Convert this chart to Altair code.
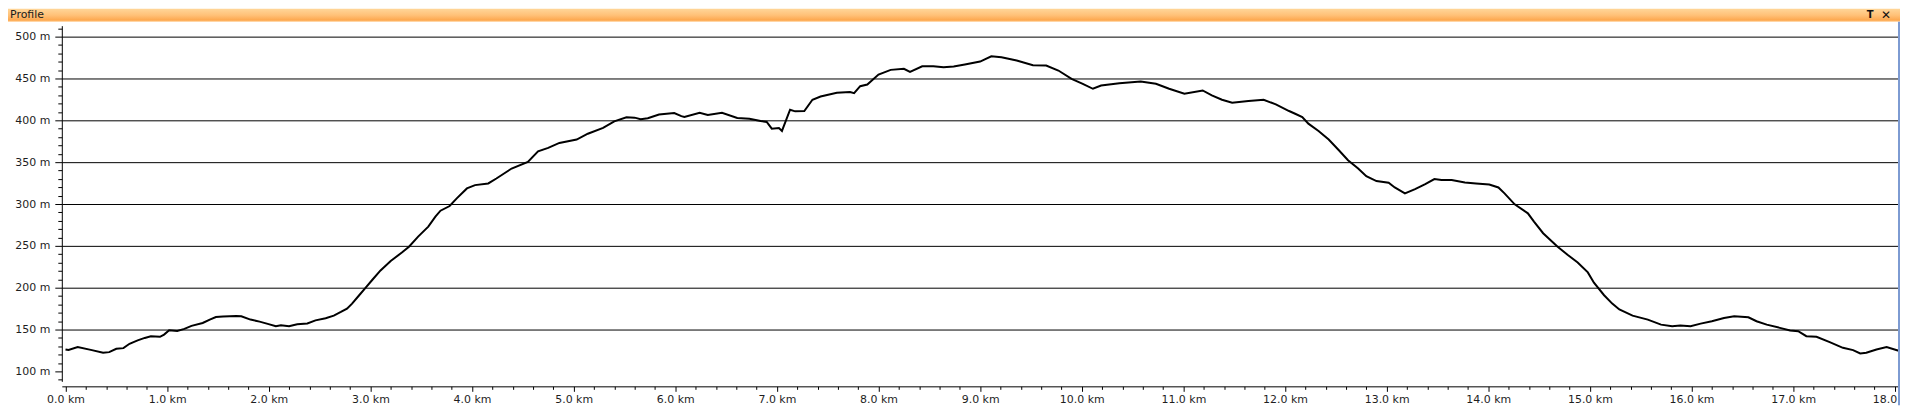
import altair as alt
import pandas as pd

dist_km = [
    0.00, 0.03, 0.12, 0.26, 0.37, 0.43, 0.50, 0.57, 0.63, 0.71, 0.78, 0.84, 0.93, 0.97,
    1.02, 1.10, 1.17, 1.24, 1.35, 1.42, 1.48, 1.55, 1.68, 1.73, 1.82, 1.91, 1.99,
    2.07, 2.12, 2.20, 2.28, 2.38, 2.46, 2.56, 2.64, 2.71, 2.77, 2.82, 2.89, 2.95,
    3.02, 3.10, 3.20, 3.31, 3.38, 3.47, 3.57, 3.64, 3.69, 3.78, 3.85, 3.95,
    4.03, 4.16, 4.24, 4.39, 4.55, 4.65, 4.75, 4.86,
    5.03, 5.14, 5.29, 5.40, 5.52, 5.60, 5.66, 5.73, 5.84, 5.99,
    6.06, 6.09, 6.24, 6.32, 6.46, 6.61, 6.73, 6.84, 6.90, 6.95,
    7.02, 7.05, 7.13, 7.18, 7.27, 7.35, 7.43, 7.59, 7.72, 7.76, 7.82, 7.89,
    8.00, 8.12, 8.25, 8.31, 8.43, 8.54, 8.64, 8.74, 8.85,
    9.00, 9.11, 9.21, 9.36, 9.52, 9.65, 9.77, 9.90,
    10.01, 10.11, 10.19, 10.37, 10.58, 10.73, 10.86,
    11.01, 11.19, 11.28, 11.38, 11.48, 11.64, 11.79, 11.91,
    12.04, 12.10, 12.17, 12.23, 12.33, 12.43, 12.53, 12.62, 12.72, 12.80, 12.90,
    13.02, 13.08, 13.18, 13.28, 13.38, 13.47, 13.54, 13.64, 13.77, 13.88,
    14.01, 14.10, 14.16, 14.26, 14.39, 14.45, 14.54, 14.68, 14.78, 14.88, 14.98,
    15.04, 15.14, 15.22, 15.29, 15.42, 15.57, 15.70, 15.81, 15.89, 15.99,
    16.09, 16.20, 16.32, 16.42, 16.56, 16.64, 16.74, 16.87, 16.97,
    17.05, 17.13, 17.23, 17.36, 17.49, 17.59, 17.66, 17.72, 17.82, 17.92,
    18.03, 18.06,
]
elev_m = [
    126.2, 125.5, 129.0, 125.4, 122.2, 123.0, 127.0, 127.8, 133.0, 137.0, 140.0, 142.0, 141.3, 144.0,
    149.2, 148.4, 150.8, 154.4, 157.9, 161.9, 165.0, 165.5, 166.3, 165.9, 161.9, 159.5, 156.8,
    154.0, 155.2, 154.0, 156.4, 157.2, 161.0, 163.5, 166.7, 171.0, 175.0, 181.0, 191.0, 199.6,
    209.5, 220.6, 232.0, 242.0, 249.0, 261.0, 273.0, 285.0, 292.0, 297.6, 306.7, 318.6,
    322.6, 324.6, 330.5, 342.4, 350.4, 363.0, 367.0, 373.0,
    377.0, 384.0, 391.0, 398.8, 403.6, 403.2, 401.2, 402.4, 407.0, 408.7,
    405.0, 404.0, 409.0, 406.3, 409.0, 402.7, 402.0, 399.2, 398.0, 390.0,
    390.8, 387.3, 412.7, 410.7, 411.1, 424.6, 428.5, 432.9, 433.7, 432.5, 440.8, 442.8,
    454.7, 460.3, 461.5, 457.9, 464.6, 464.6, 463.5, 464.2, 466.6,
    470.2, 476.5, 475.4, 471.4, 465.8, 465.4, 459.5, 449.6,
    443.6, 437.7, 441.6, 444.4, 446.4, 443.6, 437.7,
    431.7, 435.7, 429.7, 424.6, 421.0, 423.0, 424.6, 419.0,
    411.1, 407.9, 404.0, 396.0, 387.3, 377.0, 364.3, 352.4, 342.5, 333.3, 327.4,
    325.4, 319.8, 312.7, 317.8, 323.8, 329.8, 328.6, 328.6, 325.8, 324.6,
    323.4, 319.8, 312.7, 299.6, 288.9, 279.0, 265.1, 249.2, 239.3, 230.2, 218.3,
    206.0, 191.0, 181.0, 174.0, 166.6, 161.9, 155.9, 153.9, 154.7, 153.9,
    157.1, 159.9, 163.9, 165.9, 164.7, 159.9, 155.9, 152.0, 148.8,
    148.0, 142.1, 141.3, 134.9, 128.2, 125.4, 121.4, 122.2, 126.2, 129.0,
    125.0, 124.0,
]

x_tick_values = [round(i * 0.2, 1) for i in range(91)]      # 0.0 .. 18.0 km
y_tick_values = list(range(90, 511, 10))                     # 90 .. 510 m

panel_title = ["Profile"]
pin_icon = ["T"]
close_icon = ["✕"]

# ---- layout ----
W, H = 1843, 357
PAD = {"left": 54, "top": 17, "right": 2, "bottom": 24}
FONT = "DejaVu Sans"

df = pd.DataFrame({"km": dist_km, "m": elev_m})

xs = alt.Scale(domain=[-0.0363, 18.032], nice=False, zero=False)
ys = alt.Scale(domain=[88.1, 513.1], nice=False, zero=False)

major_x = "abs(datum.value - round(datum.value)) < 0.001"
major_y = "datum.value % 50 === 0"

x_axis = alt.Axis(
    values=x_tick_values, title=None, grid=False, offset=5,
    domainColor="black", domainWidth=1, tickColor="black", tickWidth=1,
    tickSize={"condition": {"test": major_x, "value": 5}, "value": 3},
    labelExpr=f"{major_x} ? format(datum.value, '.1f') + ' km' : ''",
    labelOverlap=False, labelFlush=False,
    labelFont=FONT, labelFontSize=11, labelColor="#1e1e1e", labelPadding=2,
)
y_axis = alt.Axis(
    values=y_tick_values, title=None, grid=True,
    gridColor="black", gridWidth=1,
    gridOpacity={"condition": {"test": f"{major_y} && datum.value >= 150", "value": 1}, "value": 0},
    domainColor="black", domainWidth=1, tickColor="black", tickWidth=1,
    tickSize={"condition": {"test": major_y, "value": 7}, "value": 4},
    labelExpr=f"{major_y} ? datum.value + ' m' : ''",
    labelOverlap=False, labelFlush=False,
    labelFont=FONT, labelFontSize=11, labelColor="#1e1e1e", labelPadding=5,
)

line = alt.Chart(df).mark_line(color="black", strokeWidth=2, clip=True).encode(
    x=alt.X("km:Q", scale=xs, axis=x_axis),
    y=alt.Y("m:Q", scale=ys, axis=y_axis),
)

grad = alt.LinearGradient(
    gradient="linear", x1=0, x2=0, y1=0, y2=1,
    stops=[
        alt.GradientStop(color="#FFD699", offset=0),
        alt.GradientStop(color="#FFC178", offset=0.5),
        alt.GradientStop(color="#FDA84F", offset=0.88),
        alt.GradientStop(color="#FFCB8E", offset=1),
    ],
)

bar = alt.Chart(pd.DataFrame({"t": panel_title})).mark_rect(fill=grad).encode(
    x=alt.value(-54), x2=alt.value(W + 2), y=alt.value(-17), y2=alt.value(-4)
)
title_txt = alt.Chart(pd.DataFrame({"t": panel_title})).mark_text(
    align="left", baseline="middle", font=FONT, fontSize=11, color="#1a1a1a"
).encode(x=alt.value(-52), y=alt.value(-10.5), text="t:N")
pin_txt = alt.Chart(pd.DataFrame({"t": pin_icon})).mark_text(
    align="center", baseline="middle", font=FONT, fontSize=10, fontWeight="bold", color="#111111"
).encode(x=alt.value(1815), y=alt.value(-10.5), text="t:N")
close_txt = alt.Chart(pd.DataFrame({"t": close_icon})).mark_text(
    align="center", baseline="middle", font=FONT, fontSize=12, fontWeight="bold", color="#111111"
).encode(x=alt.value(1831), y=alt.value(-10.5), text="t:N")
border = alt.Chart(pd.DataFrame({"t": panel_title})).mark_rect(fill="#7d9bd2").encode(
    x=alt.value(W), x2=alt.value(W + 2), y=alt.value(-4), y2=alt.value(H + 24)
)

chart = alt.layer(bar, title_txt, pin_txt, close_txt, border, line).properties(
    width=W, height=H, padding=PAD,
    autosize=alt.AutoSizeParams(type="none"),
    background="white",
).configure_view(strokeWidth=0)

chart.save("out.html", embed_options={"renderer": "svg", "actions": False})
